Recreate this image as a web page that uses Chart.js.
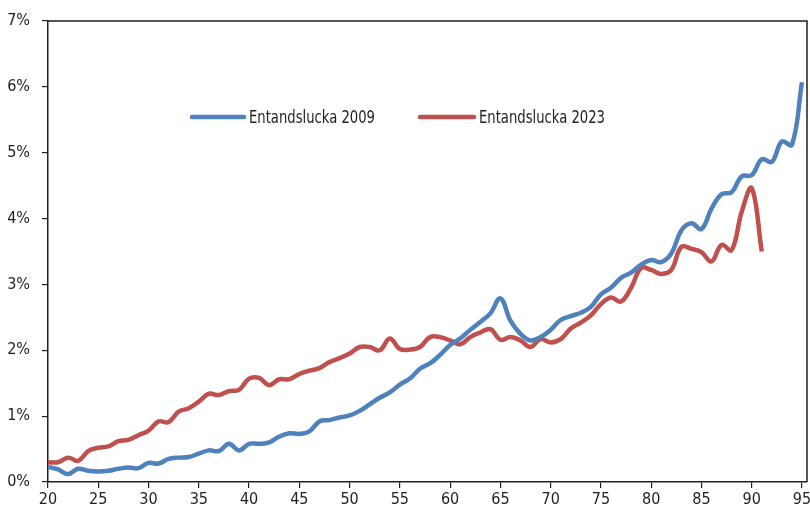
<!DOCTYPE html>
<html>
<head>
<meta charset="utf-8">
<script src="https://cdn.jsdelivr.net/npm/chart.js@4.4.1/dist/chart.umd.min.js"></script>
<style>
  html, body { margin: 0; padding: 0; background: #fff; }
  #wrap { width: 810px; height: 512px; position: relative; }
</style>
</head>
<body>
<div id="wrap"><canvas id="chart"></canvas></div>
<script>
// Age (x axis)
const ages = [20, 21, 22, 23, 24, 25, 26, 27, 28, 29, 30, 31, 32, 33, 34, 35, 36, 37, 38, 39,
    40, 41, 42, 43, 44, 45, 46, 47, 48, 49, 50, 51, 52, 53, 54, 55, 56, 57, 58, 59,
    60, 61, 62, 63, 64, 65, 66, 67, 68, 69, 70, 71, 72, 73, 74, 75, 76, 77, 78, 79,
    80, 81, 82, 83, 84, 85, 86, 87, 88, 89, 90, 91, 92, 93, 94, 95];

// Percent values
const slucka2009 = [0.23, 0.19, 0.12, 0.20, 0.17, 0.16, 0.17, 0.20, 0.22, 0.21,
    0.29, 0.28, 0.35, 0.37, 0.38, 0.43, 0.48, 0.47, 0.58, 0.48,
    0.58, 0.58, 0.60, 0.69, 0.74, 0.73, 0.77, 0.92, 0.94, 0.98,
    1.01, 1.08, 1.18, 1.28, 1.36, 1.48, 1.57, 1.72, 1.80, 1.93,
    2.08, 2.18, 2.31, 2.43, 2.56, 2.79, 2.45, 2.25, 2.15, 2.20,
    2.31, 2.46, 2.52, 2.57, 2.66, 2.85, 2.95, 3.10, 3.18, 3.30,
    3.37, 3.34, 3.47, 3.82, 3.93, 3.84, 4.15, 4.37, 4.40, 4.64,
    4.66, 4.90, 4.86, 5.17, 5.12, 6.07];

const slucka2023 = [0.30, 0.30, 0.37, 0.32, 0.47, 0.52, 0.54, 0.62, 0.64, 0.71,
    0.78, 0.92, 0.91, 1.07, 1.12, 1.22, 1.34, 1.32, 1.38, 1.40,
    1.57, 1.58, 1.47, 1.56, 1.56, 1.64, 1.69, 1.73, 1.82, 1.88,
    1.95, 2.05, 2.05, 2.00, 2.18, 2.02, 2.01, 2.05, 2.20, 2.20,
    2.15, 2.09, 2.20, 2.27, 2.32, 2.16, 2.20, 2.15, 2.05, 2.17,
    2.12, 2.17, 2.33, 2.42, 2.53, 2.70, 2.80, 2.74, 2.95, 3.25,
    3.22, 3.16, 3.22, 3.57, 3.54, 3.49, 3.35, 3.60, 3.52, 4.10,
    4.46, 3.50];

const seriesLabels = ['Entandslucka 2009', 'Entandslucka 2023'];
const xTicks = [20, 25, 30, 35, 40, 45, 50, 55, 60, 65, 70, 75, 80, 85, 90, 95];
const yTicks = [0, 1, 2, 3, 4, 5, 6, 7];

const FONT = "'Liberation Sans Narrow', 'DejaVu Sans Condensed', 'Roboto Condensed', sans-serif";
const BLUE = '#4f81bd';
const RED = '#c0504d';
const INK = '#1f1f1f';

function toPoints(values) {
    return values.map((v, i) => ({ x: ages[i], y: v }));
}

// Frame on top/right and legend inside the plot
const framePlugin = {
    id: 'frame',
    afterDraw(chart) {
        const { ctx, chartArea: a } = chart;
        ctx.save();
        ctx.strokeStyle = INK;
        ctx.lineWidth = 1.5;
        ctx.beginPath();
        ctx.moveTo(a.left, a.top);
        ctx.lineTo(a.right, a.top);
        ctx.lineTo(a.right, a.bottom);
        ctx.stroke();

        const items = [
            { x: 192, len: 52, color: BLUE, text: seriesLabels[0] },
            { x: 420, len: 54, color: RED, text: seriesLabels[1] }
        ];
        const y = 117;
        ctx.font = '18px ' + FONT;
        ctx.textBaseline = 'middle';
        ctx.fillStyle = INK;
        items.forEach(it => {
            ctx.strokeStyle = it.color;
            ctx.lineWidth = 4.5;
            ctx.lineCap = 'round';
            ctx.beginPath();
            ctx.moveTo(it.x, y);
            ctx.lineTo(it.x + it.len, y);
            ctx.stroke();
            // squeeze text to a narrow face, about 126px wide
            const w = ctx.measureText(it.text).width;
            const sx = Math.min(1, 126 / w);
            ctx.save();
            ctx.translate(it.x + it.len + 5, y + 1);
            ctx.scale(sx, 1);
            ctx.fillText(it.text, 0, 0);
            ctx.restore();
        });
        ctx.restore();
    }
};

new Chart(document.getElementById('chart'), {
    type: 'line',
    data: {
        datasets: [
            {
                label: seriesLabels[0],
                data: toPoints(slucka2009),
                borderColor: BLUE,
                borderWidth: 4.5,
                pointRadius: 0,
                tension: 0.4,
                fill: false
            },
            {
                label: seriesLabels[1],
                data: toPoints(slucka2023),
                borderColor: RED,
                borderWidth: 4.5,
                pointRadius: 0,
                tension: 0.4,
                fill: false
            }
        ]
    },
    options: {
        responsive: true,
        maintainAspectRatio: false,
        animation: false,
        layout: { padding: { top: 21, right: 3, left: 0, bottom: 0 } },
        plugins: {
            legend: { display: false },
            tooltip: { enabled: false }
        },
        scales: {
            x: {
                type: 'linear',
                min: 20,
                max: 95.5,
                afterBuildTicks(scale) {
                    scale.ticks = xTicks.map(v => ({ value: v }));
                },
                afterFit(scale) {
                    scale.height = 30;
                    scale.paddingLeft = 0;
                    scale.paddingRight = 0;
                },
                border: { color: INK, width: 1.5 },
                grid: { drawOnChartArea: false, drawTicks: true, tickLength: 6, color: INK, lineWidth: 1.2 },
                ticks: {
                    autoSkip: false,
                    maxRotation: 0,
                    padding: 2,
                    color: INK,
                    font: { family: FONT, size: 16 }
                }
            },
            y: {
                min: 0,
                max: 7,
                afterBuildTicks(scale) {
                    scale.ticks = yTicks.map(v => ({ value: v }));
                },
                afterFit(scale) {
                    scale.width = 48;
                    scale.paddingTop = 0;
                    scale.paddingBottom = 0;
                },
                border: { color: INK, width: 1.5 },
                grid: { drawOnChartArea: false, drawTicks: true, tickLength: 6, color: INK, lineWidth: 1.2 },
                ticks: {
                    padding: 12,
                    color: INK,
                    font: { family: FONT, size: 16 },
                    callback: v => v + '%'
                }
            }
        }
    },
    plugins: [framePlugin]
});
</script>
</body>
</html>
